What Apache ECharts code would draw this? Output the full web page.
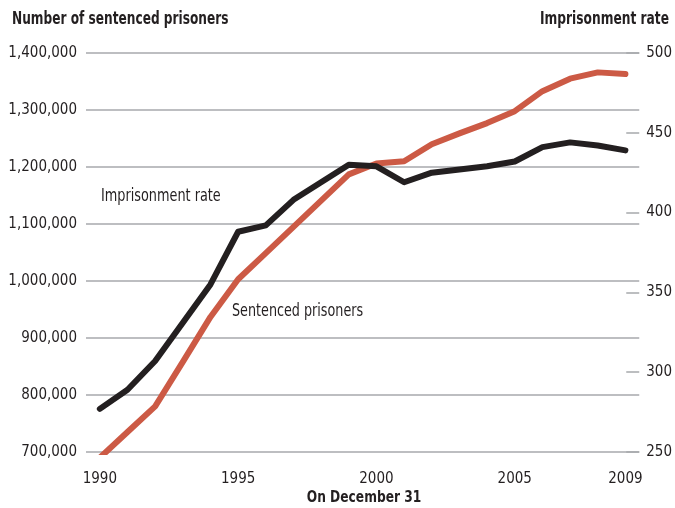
<!DOCTYPE html>
<html>
<head>
<meta charset="utf-8">
<script src="https://cdn.jsdelivr.net/npm/echarts@6/dist/echarts.min.js"></script>
<style>
  html, body {margin: 0; padding: 0; background: #fff;}
  #chart {width: 675px; height: 508px;}
</style>
</head>
<body>
<div id="chart"></div>
<script>
const years = ['1990', '1991', '1992', '1993', '1994', '1995', '1996', '1997', '1998', '1999',
  '2000', '2001', '2002', '2003', '2004', '2005', '2006', '2007', '2008', '2009']
const yearLabels = ['1990', '1995', '2000', '2005', '2009']

// sentenced prisoners (left axis)
const sentencedPrisoners = [690000, 735000, 780000, 858000, 937000, 1003000, 1049000, 1095000, 1141000, 1187000,
  1206000, 1210000, 1240000, 1259000, 1277000, 1298000, 1333000, 1355000, 1366000, 1363000]
// imprisonment rate per 100,000 (right axis)
const imprisonmentRate = [277, 289, 307, 331, 355, 388, 392, 408, 419, 430,
  429, 419, 425, 427, 429, 432, 441, 444, 442, 439]

const leftTicks = [700000, 1400000]
const rightTicks = [250, 500]

const FONT = '"Liberation Sans Narrow", "DejaVu Sans Condensed", "Noto Sans", sans-serif'
const TEXT = '#231f20'

// narrow text helper (the original uses a condensed face)
const label = (text, x, y, opts = {}) => ({
  type: 'text',
  x, y,
  scaleX: opts.scaleX || 0.88,
  silent: true,
  style: {
    text,
    x: 0, y: 0,
    font: (opts.bold ? 'bold ' : '') + (opts.size || 16) + 'px ' + FONT,
    fill: TEXT,
    align: opts.align || 'left',
    verticalAlign: 'top'
  }
})

const chart = echarts.init(document.getElementById('chart'))

chart.setOption({
  animation: false,
  backgroundColor: '#fff',
  textStyle: {fontFamily: FONT},
  grid: {left: 86, right: 35, top: 53, bottom: 56},
  graphic: [
    label('Number of sentenced prisoners', 12, 11, {bold: true, size: 17, scaleX: 0.795}),
    label('Imprisonment rate', 669, 11, {bold: true, size: 17, scaleX: 0.80, align: 'right'}),
    label('On December 31', 364, 490, {bold: true, size: 16, scaleX: 0.85, align: 'center'}),
    label('Imprisonment rate', 101, 188, {size: 17, scaleX: 0.84}),
    label('Sentenced prisoners', 232, 303, {size: 17, scaleX: 0.834})
  ],
  xAxis: {
    type: 'category',
    data: years,
    boundaryGap: true,
    axisLine: {show: false},
    axisTick: {show: false},
    axisLabel: {
      interval: 0,
      margin: 20,
      color: TEXT,
      fontSize: 15,
      fontFamily: FONT,
      formatter: v => (yearLabels.includes(v) ? v : '')
    }
  },
  yAxis: [
    {
      type: 'value',
      min: leftTicks[0],
      max: leftTicks[1],
      interval: 100000,
      axisLine: {show: false},
      axisTick: {show: false},
      splitLine: {lineStyle: {color: '#a7a9ac', width: 1.5}},
      axisLabel: {
        margin: 9,
        color: TEXT,
        fontSize: 15,
        fontFamily: FONT,
        formatter: v => v.toLocaleString('en-US')
      }
    },
    {
      type: 'value',
      min: rightTicks[0],
      max: rightTicks[1],
      interval: 50,
      position: 'right',
      axisLine: {show: false},
      axisTick: {show: true, inside: true, length: 13, lineStyle: {color: '#a7a9ac', width: 1.5}},
      splitLine: {show: false},
      axisLabel: {
        margin: 7,
        color: TEXT,
        fontSize: 15,
        fontFamily: FONT
      }
    }
  ],
  series: [
    {
      name: 'Sentenced prisoners',
      type: 'line',
      yAxisIndex: 0,
      data: sentencedPrisoners,
      symbol: 'none',
      lineStyle: {color: '#cc5a45', width: 6, cap: 'round', join: 'round'},
      z: 2
    },
    {
      name: 'Imprisonment rate',
      type: 'line',
      yAxisIndex: 1,
      data: imprisonmentRate,
      symbol: 'none',
      lineStyle: {color: '#231f20', width: 6, cap: 'round', join: 'round'},
      z: 3
    }
  ]
})
</script>
</body>
</html>
